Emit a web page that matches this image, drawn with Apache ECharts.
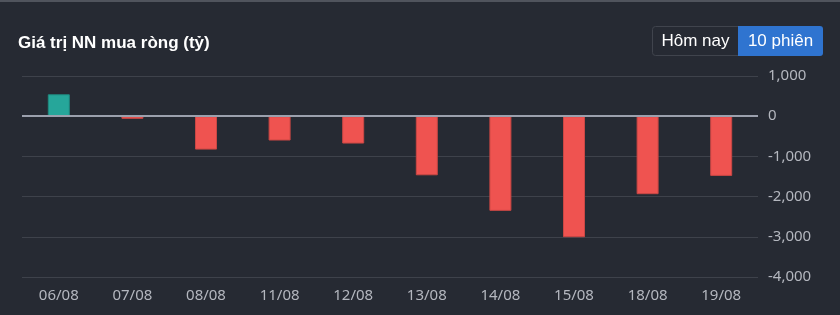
<!DOCTYPE html>
<html><head><meta charset="utf-8">
<script src="https://cdn.jsdelivr.net/npm/echarts@6/dist/echarts.min.js"></script>
<style>
html,body{margin:0;padding:0;background:#262a33;}
#c{width:840px;height:315px;}
</style></head>
<body><div id="c"></div>
<script>
const categories = ['06/08','07/08','08/08','11/08','12/08','13/08','14/08','15/08','18/08','19/08'];
const values = [545, -65, -830, -605, -680, -1470, -2355, -3010, -1940, -1485];
const yTicks = {min: -4000, max: 1000, interval: 1000};
const titleText = 'Giá trị NN mua ròng (tỷ)';
const buttons = ['Hôm nay', '10 phiên'];

const chart = echarts.init(document.getElementById('c'), null, {renderer: 'canvas'});
chart.setOption({
  backgroundColor: '#262a33',
  animation: false,
  title: {
    text: titleText, left: 18, top: 35, padding: 0,
    textStyle: {color: '#ffffff', fontSize: 17, fontWeight: 'bold', fontFamily: 'Liberation Sans, Arial, sans-serif'}
  },
  graphic: [
    {type: 'rect', shape: {x: 0, y: 0, width: 840, height: 2}, style: {fill: '#50545d'}},
    {type: 'rect', shape: {x: 652.5, y: 26.5, width: 86, height: 29, r: [3,0,0,3]}, style: {fill: '#262a33', stroke: '#40444d', lineWidth: 1}},
    {type: 'rect', shape: {x: 738, y: 26, width: 85, height: 30, r: [0,3,3,0]}, style: {fill: '#2f74d0'}},
    {type: 'text', x: 695.5, y: 41, style: {text: buttons[0], fill: '#ffffff', font: '17px "Liberation Sans", Arial, sans-serif', align: 'center', verticalAlign: 'middle'}},
    {type: 'text', x: 780.5, y: 41, style: {text: buttons[1], fill: '#ffffff', font: '17px "Liberation Sans", Arial, sans-serif', align: 'center', verticalAlign: 'middle'}}
  ],
  grid: {left: 22, right: 82, top: 76, bottom: 38},
  xAxis: {
    type: 'category', data: categories,
    axisLine: {show: false}, axisTick: {show: false},
    axisLabel: {color: '#b4b7bf', fontSize: 15, margin: 11, fontFamily: 'Noto Sans, sans-serif'}
  },
  yAxis: {
    type: 'value', position: 'right', min: yTicks.min, max: yTicks.max, interval: yTicks.interval,
    axisLine: {show: false}, axisTick: {show: false},
    splitLine: {lineStyle: {color: '#3e424b', width: 1}},
    axisLabel: {color: '#b4b7bf', fontSize: 15, margin: 10, align: 'left', fontFamily: 'Noto Sans, sans-serif',
      formatter: v => v.toLocaleString('en-US')}
  },
  series: [{
    type: 'bar', data: values.map(v => ({
      value: v,
      itemStyle: {color: v >= 0 ? '#26a69a' : '#ef5350', borderColor: v >= 0 ? '#1f8a80' : '#c94744', borderWidth: 1}
    })),
    barWidth: 22,
    markLine: {
      silent: true, symbol: 'none', label: {show: false},
      lineStyle: {color: '#9ba0ad', width: 2, type: 'solid'},
      data: [{yAxis: 0}]
    }
  }]
});
</script></body></html>
